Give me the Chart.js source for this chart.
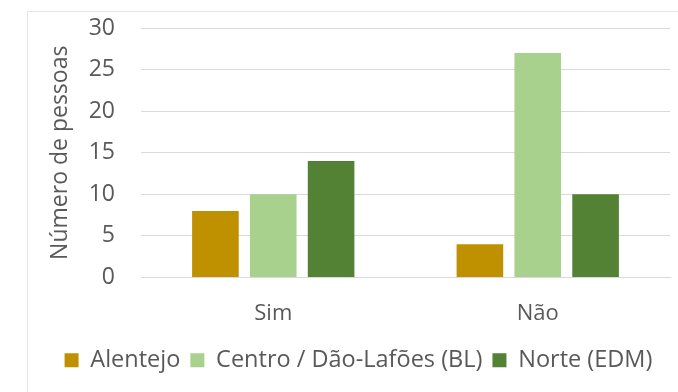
<!DOCTYPE html>
<html><head><meta charset="utf-8">
<script src="https://cdn.jsdelivr.net/npm/chart.js@4/dist/chart.umd.min.js"></script>
<style>
html,body{margin:0;padding:0;background:#fff;}
#wrap{position:absolute;left:27px;top:11px;width:651px;height:381px;border-left:1px solid #e6e6e6;border-top:1px solid #e6e6e6;box-sizing:border-box;}
canvas{display:block;}
</style></head>
<body>
<div id="wrap"><canvas id="c"></canvas></div>
<script>
const categories = ['Sim', 'Não'];
const seriesNames = ['Alentejo', 'Centro / Dão-Lafões (BL)', 'Norte (EDM)'];
const alentejo = [8, 4];
const centro = [10, 27];
const norte = [14, 10];
const seriesColors = ['#BF9000', '#A9D18E', '#548235'];
const yTicks = [0, 5, 10, 15, 20, 25, 30];

const font = "'Open Sans', 'Liberation Sans', sans-serif";
new Chart(document.getElementById('c'), {
  type: 'bar',
  data: {
    labels: categories,
    datasets: [alentejo, centro, norte].map((d, i) => ({
      label: seriesNames[i], data: d, backgroundColor: seriesColors[i],
      categoryPercentage: 0.656, barPercentage: 0.806
    }))
  },
  options: {
    responsive: true, maintainAspectRatio: false, animation: false,
    layout: { autoPadding: false, padding: { left: 19, right: 8, top: 16, bottom: 10 } },
    plugins: {
      tooltip: { enabled: false },
      legend: {
        position: 'bottom',
        labels: { font: { family: font, size: 23.5 }, color: '#595959', boxWidth: 14, boxHeight: 14, padding: 10 }
      }
    },
    scales: {
      x: {
        grid: { display: false, drawTicks: false },
        border: { display: true, color: '#d9d9d9' },
        ticks: { font: { family: font, size: 22 }, color: '#595959', padding: 23, maxRotation: 0 },
        afterFit: s => { s.height = 61; s.paddingLeft = 0; s.paddingRight = 0; }
      },
      y: {
        min: 0, max: 30,
        afterBuildTicks: s => { s.ticks = yTicks.map(v => ({ value: v })); },
        grid: { color: '#d9d9d9', drawTicks: false },
        border: { display: false },
        ticks: { font: { family: font, size: 23 }, color: '#595959', padding: 26 },
        title: { display: true, text: 'Número de pessoas', font: { family: font, size: 23 }, color: '#595959', padding: { top: 0, bottom: 2 } },
        afterFit: s => { s.width = 94; s.paddingTop = 0; s.paddingBottom = 0; }
      }
    }
  }
});
</script>
</body></html>
